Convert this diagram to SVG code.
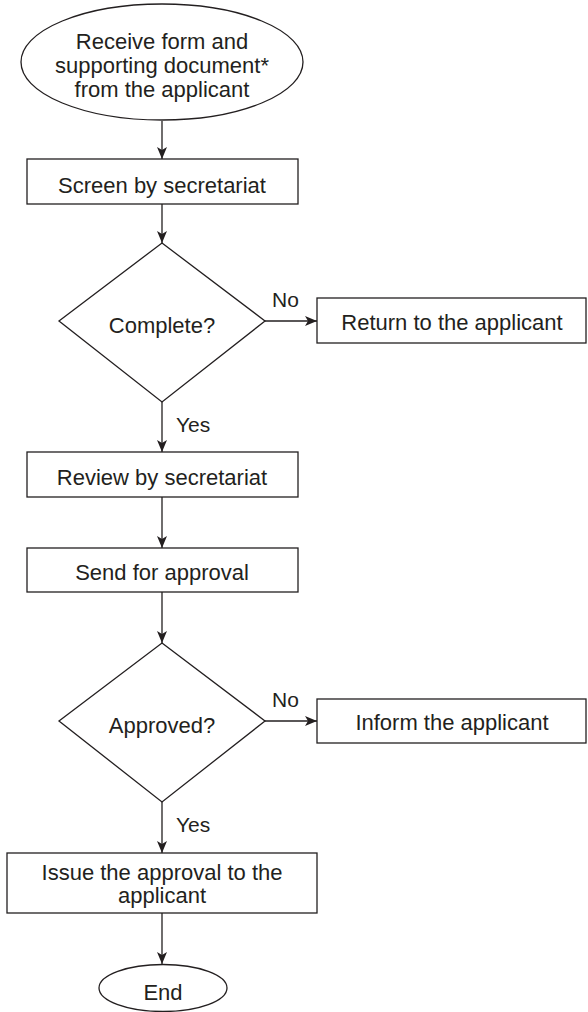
<svg xmlns="http://www.w3.org/2000/svg" width="588" height="1012" viewBox="0 0 588 1012">
<style>
.s{fill:#fff;stroke:#231f20;stroke-width:1.3}
.t{font-family:"Liberation Sans",Arial,sans-serif;font-size:22px;fill:#231f20;text-anchor:middle}
.l{font-family:"Liberation Sans",Arial,sans-serif;font-size:21px;fill:#231f20}
.c{fill:none;stroke:#231f20;stroke-width:1.3}
</style>
<defs>
<marker id="ah" viewBox="0 0 12 10" refX="12" refY="5" markerWidth="12" markerHeight="10" markerUnits="userSpaceOnUse" orient="auto">
<path d="M0,0 L12,5 L0,10 L3,5 Z" fill="#231f20"/>
</marker>
</defs>
<rect width="588" height="1012" fill="#fff"/>
<g id="connectors">
<line class="c" x1="162" y1="121" x2="162" y2="159" marker-end="url(#ah)"/>
<line class="c" x1="162" y1="204" x2="162" y2="243" marker-end="url(#ah)"/>
<line class="c" x1="265" y1="321" x2="317" y2="321" marker-end="url(#ah)"/>
<line class="c" x1="162" y1="402" x2="162" y2="452" marker-end="url(#ah)"/>
<line class="c" x1="162" y1="497" x2="162" y2="548" marker-end="url(#ah)"/>
<line class="c" x1="162" y1="592" x2="162" y2="643" marker-end="url(#ah)"/>
<line class="c" x1="265" y1="721" x2="317" y2="721" marker-end="url(#ah)"/>
<line class="c" x1="162" y1="802" x2="162" y2="853" marker-end="url(#ah)"/>
<line class="c" x1="162" y1="913" x2="162" y2="964" marker-end="url(#ah)"/>
<text class="l" x="272" y="307">No</text>
<text class="l" x="176" y="432">Yes</text>
<text class="l" x="272" y="707">No</text>
<text class="l" x="176" y="832">Yes</text>
</g>
<g id="start">
<ellipse class="s" cx="162" cy="62" rx="141" ry="58"/>
<text class="t" x="162" y="49">Receive form and</text>
<text class="t" x="162" y="73">supporting document*</text>
<text class="t" x="162" y="97">from the applicant</text>
</g>
<g id="screen">
<rect class="s" x="27" y="159" width="271" height="45"/>
<text class="t" x="162" y="193">Screen by secretariat</text>
</g>
<g id="complete">
<polygon class="s" points="162,243 265,321 162,402 59,321"/>
<text class="t" x="162" y="333">Complete?</text>
</g>
<g id="return">
<rect class="s" x="317" y="298" width="269" height="45"/>
<text class="t" x="452" y="330">Return to the applicant</text>
</g>
<g id="review">
<rect class="s" x="27" y="452" width="271" height="45"/>
<text class="t" x="162" y="485">Review by secretariat</text>
</g>
<g id="send">
<rect class="s" x="27" y="548" width="271" height="44"/>
<text class="t" x="162" y="580">Send for approval</text>
</g>
<g id="approved">
<polygon class="s" points="162,643 265,721 162,802 59,721"/>
<text class="t" x="162" y="733">Approved?</text>
</g>
<g id="inform">
<rect class="s" x="317" y="699" width="269" height="44"/>
<text class="t" x="452" y="730">Inform the applicant</text>
</g>
<g id="issue">
<rect class="s" x="7" y="853" width="310" height="60"/>
<text class="t" x="162" y="880">Issue the approval to the</text>
<text class="t" x="162" y="903">applicant</text>
</g>
<g id="end">
<ellipse class="s" cx="163" cy="988" rx="64" ry="23.5"/>
<text class="t" x="163" y="1000">End</text>
</g>
</svg>
